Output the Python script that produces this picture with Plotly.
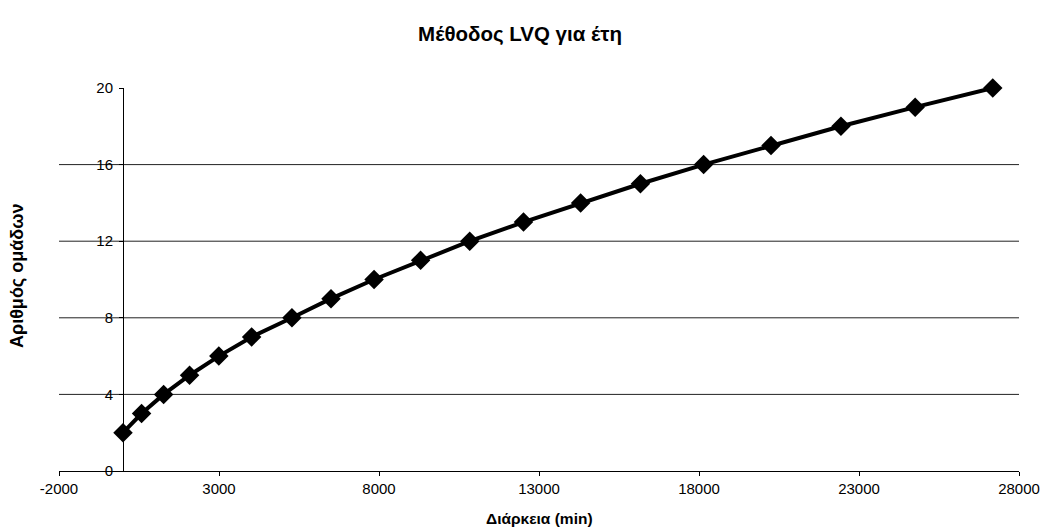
import plotly.graph_objects as go

# Duration (minutes) needed for each number of groups
durations = [0, 580, 1270, 2080, 2995, 4020, 5280, 6500, 7845, 9300,
             10835, 12515, 14300, 16170, 18145, 20250, 22435, 24755, 27180]
groups = [2, 3, 4, 5, 6, 7, 8, 9, 10, 11, 12, 13, 14, 15, 16, 17, 18, 19, 20]

x_ticks = [-2000, 3000, 8000, 13000, 18000, 23000, 28000]
x_tick_text = ["-2000", "3000", "8000", "13000", "18000", "23000", "28000"]
y_ticks = [0, 4, 8, 12, 16, 20]
grid_ticks = [4, 8, 12, 16]

FONT = "Liberation Sans, Arial, sans-serif"
x_range = [-2000, 28000]

fig = go.Figure()
fig.add_trace(go.Scatter(
    x=durations, y=groups, mode="lines+markers",
    line=dict(color="black", width=4),
    marker=dict(symbol="diamond", size=15, color="black"),
    cliponaxis=False, showlegend=False,
))

# horizontal gridlines across the whole plot area
grid_shapes = [
    dict(type="line", xref="paper", x0=0, x1=1, yref="y", y0=v, y1=v,
         line=dict(color="#222222", width=1), layer="below")
    for v in grid_ticks
]

fig.update_layout(
    width=1042, height=529,
    margin=dict(l=59, r=23, t=88, b=58, autoexpand=False),
    paper_bgcolor="white", plot_bgcolor="white",
    font=dict(family=FONT, color="black"),
    title=dict(text="<b>Μέθοδος LVQ για έτη</b>", xref="container", yref="container",
               x=520 / 1042, y=1 - 34 / 529, xanchor="center", yanchor="middle",
               font=dict(size=20.5, family=FONT, color="black")),
    xaxis=dict(range=x_range, tickvals=x_ticks, ticktext=x_tick_text,
               ticks="outside", ticklen=4, ticklabeloverflow="allow", automargin=False,
               tickcolor="black", showline=True, linecolor="black", linewidth=1,
               showgrid=False, zeroline=False, tickfont=dict(size=15)),
    # vertical axis crosses the horizontal one at x = 0
    yaxis=dict(range=[0, 20], tickvals=y_ticks, ticks="outside", ticklen=4,
               tickcolor="black", showline=True, linecolor="black", linewidth=1,
               showgrid=False, zeroline=False, tickfont=dict(size=15),
               anchor="free", position=(0 - x_range[0]) / (x_range[1] - x_range[0]),
               ticklabelstandoff=3, automargin=False),
    shapes=grid_shapes,
    annotations=[
        dict(text="<b>Διάρκεια (min)</b>", xref="paper", yref="paper",
             x=0.5, y=-47 / 383, xanchor="center", yanchor="middle",
             showarrow=False, font=dict(size=15.5, family=FONT, color="black")),
        dict(text="<b>Αριθμός ομάδων</b>", xref="paper", yref="paper",
             x=-42 / 960, y=(471 - 276) / 383, xanchor="center", yanchor="middle",
             textangle=-90, showarrow=False,
             font=dict(size=18, family=FONT, color="black")),
    ],
)

fig.write_html("out.html")
